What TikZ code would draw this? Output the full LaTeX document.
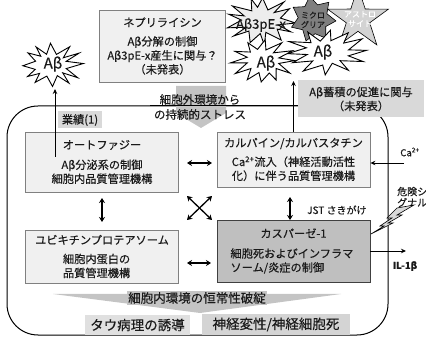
\documentclass[tikz,border=0pt]{standalone}
\usepackage{fontspec}
\setmainfont{Noto Sans CJK JP}[FakeBold=0.35]
\usetikzlibrary{shapes.geometric,arrows.meta}

\definecolor{boxfill}{HTML}{F0F0F0}
\definecolor{boxline}{HTML}{808080}
\definecolor{darkfill}{HTML}{BFBFBF}
\definecolor{darkline}{HTML}{404040}
\definecolor{tagfill}{HTML}{D9D9D9}
\definecolor{bannerfill}{HTML}{C4C4C4}
\definecolor{microfill}{HTML}{7F7F7F}
\definecolor{astrofill}{HTML}{D3D3D3}
\definecolor{pEfill}{HTML}{EDEDED}
\definecolor{txt}{HTML}{1A1A1A}

% jagged explosion outline: centre x, centre y, radius x, radius y, vertices, seed
\newcommand{\spikyrad}[2]{(0.78+0.22*cos(180*#1)-0.09*abs(sin(#1*#2*41)))}
\newcommand{\spikypath}[6]{%
  plot[samples at={1,...,#5}, variable=\k]
  ({#1+#3*\spikyrad{\k}{#6}*cos(\k*360/#5+5*sin(\k*#6*29))},
   {#2+#4*\spikyrad{\k}{#6}*sin(\k*360/#5+5*sin(\k*#6*29))}) -- cycle}

\tikzset{
  base/.style={font=\fontsize{11.2}{14}\selectfont, text=txt, inner sep=1pt},
  mechbox/.style={base, draw=boxline, fill=boxfill, line width=0.8pt,
    minimum width=153pt, align=center},
  darkbox/.style={mechbox, draw=darkline, fill=darkfill},
  tagbox/.style={base, fill=tagfill, align=center},
  outcome/.style={font=\fontsize{13.5}{15}\selectfont, text=txt, inner sep=0pt},
  burstline/.style={draw=black, line width=0.9pt, line join=miter},
  burstlabel/.style={font=\fontsize{15}{15}\selectfont, text=txt, inner sep=0pt},
  smalllabel/.style={font=\fontsize{8}{9.5}\selectfont, align=center, inner sep=0pt},
  note/.style={font=\fontsize{9.5}{11}\selectfont, text=txt, inner sep=0pt},
  thinarrow/.style={line width=0.9pt, -{Stealth[length=5pt,width=4.5pt]}},
  dblarrow/.style={line width=1.3pt, {Stealth[length=5pt,width=6pt]}-{Stealth[length=5pt,width=6pt]}},
}

\begin{document}
\begin{tikzpicture}[x=1pt,y=-1pt]
\useasboundingbox (0,0) rectangle (426,339);

% cell outline
\draw[line width=1pt, rounded corners=31pt] (7,106) rectangle (388,335);

% neprilysin
\node[mechbox, minimum width=126pt, minimum height=72pt] (nep) at (162.5,46)
  {ネプリライシン\\[5pt]Aβ分解の制御\\Aβ3pE-x産生に関与？\\（未発表）};

% glial cells and amyloid species
\node[star, star points=5, star point ratio=2.6, minimum size=64pt, inner sep=0pt,
      fill=astrofill, draw=black, line width=0.6pt] (astro) at (358,19) {};
\node[smalllabel, text=white] (astroT) at (360,19) {アストロ\\サイト};
\filldraw[burstline, fill=pEfill] \spikypath{261}{21}{37}{25}{26}{3};
\node[star, star points=7, star point ratio=1.55, minimum size=46pt, inner sep=0pt,
      fill=microfill, draw=black, line width=0.6pt, rotate=8] (micro) at (313,19) {};
\node[smalllabel, text=txt] (microT) at (313,20) {ミクロ\\グリア};
\filldraw[burstline, fill=white] \spikypath{327}{52}{43}{24}{24}{5};
\node[burstlabel] (abRT) at (323,52) {Aβ};
\filldraw[burstline, fill=white] \spikypath{263}{61}{34}{23}{24}{7};
\node[burstlabel] (abMT) at (266,63) {Aβ};
\node[burstlabel, font=\fontsize{13}{14}\selectfont] (pET) at (261,25) {Aβ3pE-x};
\filldraw[burstline, fill=white] \spikypath{52}{65}{32}{23}{24}{2};
\node[burstlabel] (abLT) at (53,64) {Aβ};

% extracellular stress banner
\fill[bannerfill] (176,86) -- (226,86) -- (226,113) -- (201,128) -- (176,113) -- cycle;
\draw[line width=1pt] (150,106) -- (298,106);
\node[base, font=\fontsize{11.5}{15}\selectfont, align=center] (stress) at (200,107)
  {細胞外環境から\\の持続的ストレス};

% accumulation note
\node[tagbox, minimum width=126pt, minimum height=37pt] (accum) at (361,99)
  {Aβ蓄積の促進に関与\\（未発表）};

% publication tag
\node[tagbox, minimum width=44pt, minimum height=17pt] (pub) at (80,120) {業績(1)};

% quality-control mechanisms
\node[mechbox, minimum height=60pt] (auto) at (102,162)
  {オートファジー\\[6pt]Aβ分泌系の制御\\細胞内品質管理機構};
\node[mechbox, minimum height=55pt] (calp) at (293.5,159.5)
  {カルパイン/カルパスタチン\\[5pt]Ca\textsuperscript{2+}流入（神経活動活性\\化）に伴う品質管理機構};
\node[mechbox, minimum height=53pt, text width=78pt, align=left] (ubq) at (102,256.5)
  {\makebox[\linewidth]{ユビキチンプロテアソーム}\\[5pt]細胞内蛋白の\\品質管理機構};
\node[darkbox, minimum height=62pt, text width=126pt, align=left] (casp) at (293.5,251)
  {\makebox[\linewidth]{カスパーゼ-1}\\[6pt]細胞死およびインフラマ\\ソーム/炎症の制御};

% links to amyloid
\coordinate (autoA) at (55,157);
\coordinate (abLtip) at (55,89);
\draw[thinarrow] (autoA) -- (abLtip);
\coordinate (calpTip) at (293.5,81);
\draw[thinarrow] (calp.north) -- (calpTip);

% interplay between mechanisms
\coordinate (h1a) at (187,163); \coordinate (h1b) at (212,163);
\coordinate (h2a) at (187,263); \coordinate (h2b) at (211,263);
\coordinate (v1a) at (102,198); \coordinate (v1b) at (102,222);
\coordinate (v2a) at (290,197); \coordinate (v2b) at (290,220);
\coordinate (x1a) at (187,196); \coordinate (x1b) at (212,220);
\coordinate (x2a) at (212,196); \coordinate (x2b) at (187,220);
\draw[dblarrow] (h1a) -- (h1b);
\draw[dblarrow] (h2a) -- (h2b);
\draw[dblarrow] (v1a) -- (v1b);
\draw[dblarrow] (v2a) -- (v2b);
\draw[dblarrow] (x1a) -- (x1b);
\draw[dblarrow] (x2a) -- (x2b);
\node[note, font=\fontsize{10}{11}\selectfont, anchor=west] (jst) at (307,210) {JST さきがけ};

% calcium and interleukin
\node[note] (ca) at (410,152) {Ca\textsuperscript{2+}};
\coordinate (caSrc) at (404,163);
\draw[thinarrow] (caSrc) -- (calp.east |- caSrc);
\coordinate (ilTip) at (406,251);
\draw[thinarrow] (casp.east) -- (ilTip);
\node[note, font=\fontsize{9.5}{11}\selectfont\bfseries] (il) at (405,266) {IL-1β};

% danger signal
\node[note, font=\fontsize{10}{11}\selectfont, anchor=west, align=left] (danger) at (397,197)
  {危険シ\\グナル};
\draw[fill=tagfill, line width=0.6pt] (414,205) -- (397,208) -- (387,218) -- (392,218)
  -- (380,226) -- (384,226) -- (371,234) -- (393,223) -- (388,223) -- (402,215)
  -- (397,215) -- cycle;

% loss of homeostasis
\fill[bannerfill] (53,294) -- (341,294) -- (200,313) -- cycle;
\node[base, fill=bannerfill, font=\fontsize{12.5}{14}\selectfont, inner sep=1.5pt] (homeo) at (197,298)
  {細胞内環境の恒常性破綻};
\node[outcome, fill=black!12, minimum width=105pt, minimum height=20pt] (tau) at (137.5,325)
  {タウ病理の誘導};
\node[outcome, fill=black!17, minimum width=148pt, minimum height=21pt] (neuro) at (276,324.5)
  {神経変性/神経細胞死};
\end{tikzpicture}
\end{document}
